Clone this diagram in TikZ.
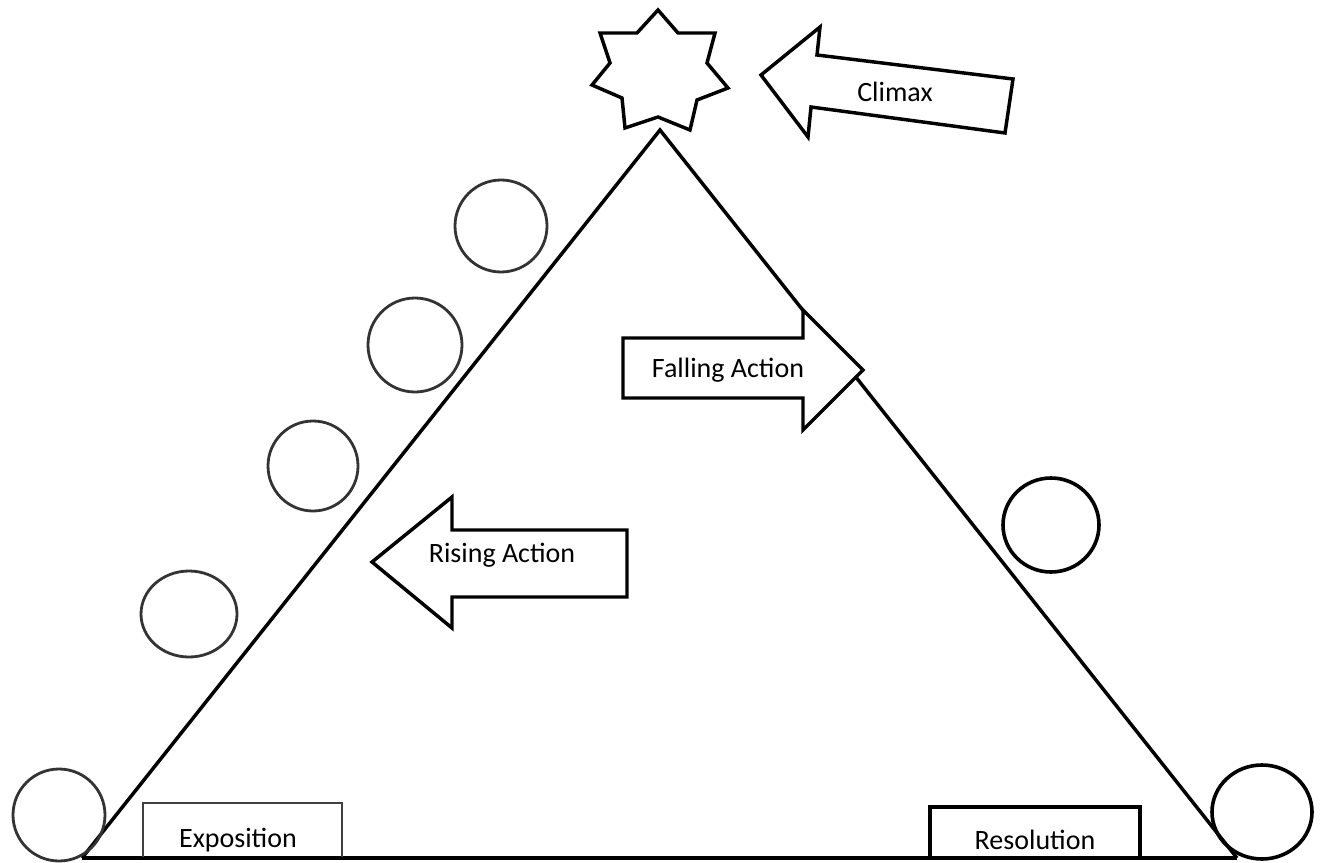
\documentclass[tikz,border=0pt]{standalone}
\usepackage{fontspec}
\setmainfont{Carlito}
\usetikzlibrary{shapes.geometric}
\begin{document}
\begin{tikzpicture}[x=0.75pt,y=-0.75pt,
  thick line/.style={line width=2.6pt,line join=miter,black},
  soft circle/.style={line width=2.1pt,draw=black!80},
  hard circle/.style={line width=2.7pt,draw=black},
  lbl/.style={font=\fontsize{21}{25}\selectfont,inner sep=0pt}]
\useasboundingbox (0,0) rectangle (1327,863);
% triangle
\coordinate (apex) at (660,130);
\coordinate (bl) at (82,858);
\coordinate (br) at (1237,858);
\draw[thick line] (bl) -- (apex) -- (br);
\draw[thick line] (bl) -- (br);
% star
\draw[thick line] (658,10) -- (678,33) -- (715,33) -- (707,63) -- (728,88) -- (697,100)
  -- (690,130) -- (658,117) -- (625,128) -- (622,98) -- (592,85) -- (610,63)
  -- (600,33) -- (637,33) -- cycle;
\coordinate (climaxstar) at (660,75);
% climax arrow
\draw[thick line] (761,75) -- (820,27) -- (817,55) -- (1013,79) -- (1005,133) -- (811,107) -- (808,137) -- cycle;
\node[lbl] (climax) at (895,92) {Climax};
% falling arrow
\draw[thick line,fill=white] (623,338) -- (803,338) -- (803,310) -- (863,370) -- (803,430) -- (803,398) -- (623,398) -- cycle;
\node[lbl] (falling) at (728,370) {Falling Action};
% rising arrow
\draw[thick line] (372,562) -- (452,497) -- (452,530) -- (627,530) -- (627,597) -- (452,597) -- (452,628) -- cycle;
\node[lbl] (rising) at (502,555) {Rising Action};
% circles
\node[soft circle,ellipse,minimum width=92*0.75pt,minimum height=92*0.75pt,inner sep=0pt] (c1) at (501,226) {};
\node[soft circle,ellipse,minimum width=94*0.75pt,minimum height=94*0.75pt,inner sep=0pt] (c2) at (415,345) {};
\node[soft circle,ellipse,minimum width=90*0.75pt,minimum height=90*0.75pt,inner sep=0pt] (c3) at (313,466) {};
\node[soft circle,ellipse,minimum width=96*0.75pt,minimum height=86*0.75pt,inner sep=0pt] (c4) at (189,614) {};
\node[soft circle,ellipse,minimum width=92*0.75pt,minimum height=92*0.75pt,inner sep=0pt] (c5) at (59,815) {};
\node[hard circle,ellipse,minimum width=96*0.75pt,minimum height=94*0.75pt,inner sep=0pt] (c6) at (1051,525) {};
\node[hard circle,ellipse,minimum width=100*0.75pt,minimum height=94*0.75pt,inner sep=0pt] (c7) at (1262,812) {};
% boxes
\draw[line width=1.6pt,draw=black!75] (143,857) -- (143,803) -- (342,803) -- (342,857);
\node[lbl] (expo) at (238,840) {Exposition};
\draw[thick line] (930,858) -- (930,807) -- (1140,807) -- (1140,858);
\node[lbl] (reso) at (1035,840) {Resolution};
\end{tikzpicture}
\end{document}
